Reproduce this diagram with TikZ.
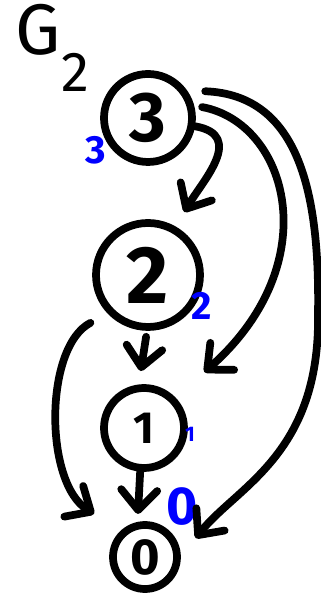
\documentclass[tikz,border=0pt]{standalone}
\usepackage{fontspec}
\setmainfont{Fira Sans}
\usetikzlibrary{arrows.meta}
\begin{document}
\begin{tikzpicture}[line width=5.5pt, line cap=round, line join=round,
    vertice/.style={circle, draw, inner sep=0pt, font=\bfseries},
    etiqueta/.style={text=blue, inner sep=0pt, font=\bfseries},
    flecha/.style={-{Straight Barb[round, length=5mm, width=9mm]}}]
        \useasboundingbox (0,0) rectangle (8,14.875);

        % Nombre del grafo
        \node[anchor=base west, inner sep=0pt] (nombre) at (0.3,13.5)
            {\fontsize{51}{51}\selectfont G\kern0.02cm\raisebox{-0.92cm}{\fontsize{40}{40}\selectfont 2}};

        % Vértices
        \node[vertice, minimum size=2.2cm] (n3) at (3.7,11.925) {\fontsize{50}{50}\selectfont 3};
        \node[vertice, minimum size=2.6cm] (n2) at (3.7,8.0) {\fontsize{58}{58}\selectfont 2};
        \node[vertice, minimum size=2.0cm] (n1) at (3.6,4.175) {\fontsize{32}{32}\selectfont 1};
        \node[vertice, minimum size=1.6cm] (n0) at (3.625,0.95) {\fontsize{36}{36}\selectfont 0};

        % Etiquetas azules
        \node[etiqueta] (e3) at (2.4,11.125) {\fontsize{28}{28}\selectfont 3};
        \node[etiqueta] (e2) at (5.05,7.225) {\fontsize{28}{28}\selectfont 2};
        \node[etiqueta] (e1) at (4.75,4.025) {\fontsize{15}{15}\selectfont 1};
        \node[etiqueta] (e0) at (4.55,2.2) {\fontsize{38}{38}\selectfont 0};

        % Aristas
        \draw[flecha, shorten >=0.42cm] (n3.-10) to[out=-10, in=60, looseness=1.3] (n2.60);
        \draw[flecha, shorten <=0.2cm, shorten >=0.96cm] (n3.15) .. controls (7.2,11.8) and (8.2,8.3) .. (n1.44);
        \draw[flecha, shorten <=0.45cm, shorten >=0.6cm] (n3.35) .. controls (7.5,12.5) and (8.0,10.0) .. (7.95,7.0)
            .. controls (8.0,3.5) and (5.9,2.7) .. (n0.0);
        \draw[flecha, shorten <=0.15cm, shorten >=0.34cm] (n2.-91) -- (n1.97);
        \draw[flecha, shorten >=0.2cm] (n1.-95) -- (n0.102);
        \draw[flecha, shorten <=0.49cm, shorten >=0.79cm] (n2.224) .. controls (1.1,6.2) and (1.1,2.8) .. (n0.132);
\end{tikzpicture}
\end{document}
